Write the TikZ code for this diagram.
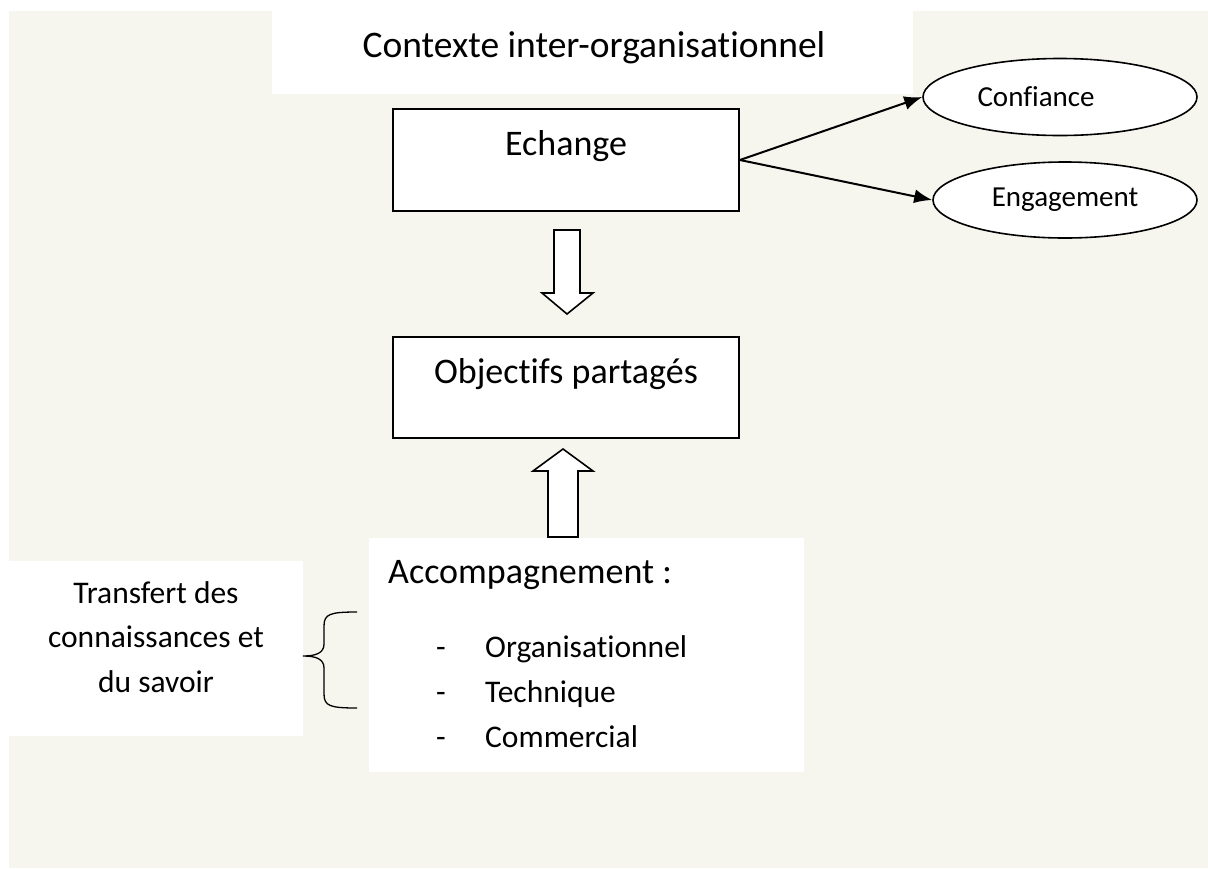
\documentclass[tikz,border=0pt]{standalone}
\usepackage{fontspec}
\setmainfont{Carlito}[Ligatures={NoCommon}]
\usetikzlibrary{shapes.geometric,arrows.meta}
\definecolor{beige}{RGB}{246,245,238}
\tikzset{
  bigtxt/.style={font=\fontsize{36}{44}\selectfont},
  titletxt/.style={font=\fontsize{37.5}{44}\selectfont},
  midtxt/.style={font=\fontsize{31.5}{44}\selectfont},
  smalltxt/.style={font=\fontsize{29}{34}\selectfont},
  mainbox/.style={draw=black, line width=1.8pt, fill=white, inner sep=0pt,
    minimum width=346pt, text height=46pt, bigtxt},
  oval/.style={ellipse, draw=black, line width=1.6pt, fill=white, inner sep=0pt, smalltxt},
  link/.style={line width=2pt, -{Latex[length=18pt,width=14pt]}},
  blockarrow/.style={draw=black, line width=1.6pt, fill=white, line join=miter},
  plain/.style={inner sep=0pt, anchor=base}
}
\begin{document}
\begin{tikzpicture}[x=1pt,y=-1pt]
\useasboundingbox (0,0) rectangle (1208,868);
\fill[white] (0,0) rectangle (1208,868);
\fill[beige] (9,11) rectangle (1208,868);
% title
\fill[white] (272,0) rectangle (913,94);
\node[plain, titletxt] (ctx) at (594,57) {Contexte inter-organisationnel};
% boxes
\node[mainbox, text depth=56pt] (ech) at (566,160) {Echange};
\node[mainbox, text depth=55pt] (obj) at (566,387.5) {Objectifs partagés};
% ellipses
\node[oval, minimum width=274pt, minimum height=77pt] (conf) at (1060,97) {\hbox to 165pt{Confiance\hfil}};
\node[oval, minimum width=264pt, minimum height=76pt] (eng) at (1065,200) {Engagement};
\draw[link] (ech.east) -- (conf.west);
\draw[link] (ech.east) -- (eng.west);
% block arrow down
\coordinate (dtip) at (567,314);
\draw[blockarrow] (554,230) -- (580,230) -- (580,293) -- (593,293) -- (dtip) -- (542,293) -- (554,293) -- cycle;
% block arrow up
\coordinate (utip) at (563,449);
\draw[blockarrow] (548,537) -- (548,471) -- (533,471) -- (utip) -- (593,471) -- (578,471) -- (578,537) -- cycle;
% accompagnement box
\fill[white] (369,538) rectangle (804,772);
\node[plain, bigtxt, anchor=base west] (acc) at (388,583) {Accompagnement :};
\node[plain, midtxt, anchor=base west] (d1) at (436,657) {-};
\node[plain, midtxt, anchor=base west] (d2) at (436,702) {-};
\node[plain, midtxt, anchor=base west] (d3) at (436,747) {-};
\node[plain, midtxt, anchor=base west] (i1) at (485,657) {Organisationnel};
\node[plain, midtxt, anchor=base west] (i2) at (485,702) {Technique};
\node[plain, midtxt, anchor=base west] (i3) at (485,747) {Commercial};
% transfert box
\fill[white] (9,561) rectangle (303,736);
\node[plain, midtxt] (t1) at (156,603) {Transfert des};
\node[plain, midtxt] (t2) at (156,647) {connaissances et};
\node[plain, midtxt] (t3) at (156,692) {du savoir};
% brace
\coordinate (btop) at (357,612);
\coordinate (bmid) at (303,656);
\coordinate (bbot) at (357,708);
\draw[line width=1.3pt] (btop) .. controls (330,612) and (324,614) .. (324,626) -- (324,644)
  .. controls (324,653) and (316,656) .. (bmid)
  .. controls (316,656) and (324,659) .. (324,668) -- (324,694)
  .. controls (324,706) and (330,708) .. (bbot);
\end{tikzpicture}
\end{document}
